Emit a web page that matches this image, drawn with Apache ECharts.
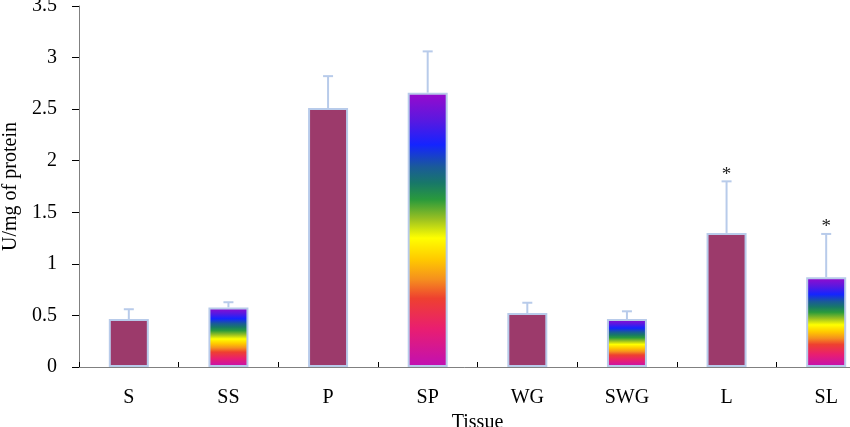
<!DOCTYPE html>
<html>
<head>
<meta charset="utf-8">
<script src="https://cdn.jsdelivr.net/npm/echarts@6/dist/echarts.min.js"></script>
<style>
html,body{margin:0;padding:0;background:#fff;}
#chart{width:850px;height:427px;}
</style>
</head>
<body>
<div id="chart"></div>
<script>
// ---- data ----
var categories = ['S', 'SS', 'P', 'SP', 'WG', 'SWG', 'L', 'SL'];
var means = [0.465, 0.578, 2.51, 2.66, 0.523, 0.465, 1.30, 0.87];
var errors = [0.095, 0.05, 0.31, 0.40, 0.10, 0.075, 0.50, 0.42];
var significance = ['', '', '', '', '', '', '*', '*'];
var groups = ['plain', 'treated', 'plain', 'treated', 'plain', 'treated', 'plain', 'treated'];
var yTicks = ['0', '0.5', '1', '1.5', '2', '2.5', '3', '3.5'];

// ---- styles ----
var FONT = 'Liberation Serif';
var plainColor = '#9c3a6b';
var rainbow = new echarts.graphic.LinearGradient(0, 0, 0, 1, [
  {offset: 0.00, color: '#9a0acb'},
  {offset: 0.10, color: '#5a18e0'},
  {offset: 0.19, color: '#1424ff'},
  {offset: 0.27, color: '#1a5a9a'},
  {offset: 0.33, color: '#187868'},
  {offset: 0.39, color: '#2a9a3c'},
  {offset: 0.46, color: '#99c022'},
  {offset: 0.53, color: '#ffff00'},
  {offset: 0.61, color: '#ffc800'},
  {offset: 0.68, color: '#f5901e'},
  {offset: 0.75, color: '#ee4030'},
  {offset: 0.86, color: '#e91e70'},
  {offset: 1.00, color: '#c010b4'}
]);
var borderBlue = '#b8cbea';

var barData = means.map(function (v, i) {
  return {
    value: v,
    itemStyle: { color: groups[i] === 'treated' ? rainbow : plainColor }
  };
});
var errData = means.map(function (v, i) { return [i, v, errors[i]]; });

var chart = echarts.init(document.getElementById('chart'), null, {renderer: 'canvas'});
chart.setOption({
  animation: false,
  backgroundColor: '#fff',
  grid: { left: 79, top: 6, height: 361, width: 797, containLabel: false, outerBoundsMode: 'none' },
  xAxis: {
    type: 'category',
    data: categories,
    name: 'Tissue',
    nameLocation: 'middle',
    nameGap: 43,
    nameTextStyle: { fontFamily: FONT, fontSize: 20, color: '#000' },
    axisLine: { lineStyle: { color: '#808080', width: 1 } },
    axisTick: { show: true, inside: true, length: 5, lineStyle: { color: '#000' } },
    axisLabel: { margin: 21, fontFamily: FONT, fontSize: 20, color: '#000' }
  },
  yAxis: {
    type: 'value',
    min: 0, max: 3.5, interval: 0.5,
    name: 'U/mg of protein',
    nameLocation: 'middle',
    nameGap: 58,
    nameRotate: 90,
    nameTextStyle: { fontFamily: FONT, fontSize: 20, color: '#000' },
    axisLine: { show: true, lineStyle: { color: '#808080', width: 1 } },
    axisTick: { show: true, length: 7, lineStyle: { color: '#000' } },
    splitLine: { show: false },
    axisLabel: {
      margin: 22, fontFamily: FONT, fontSize: 20, color: '#000',
      formatter: function (v) { return yTicks[Math.round(v / 0.5)]; }
    }
  },
  series: [
    {
      type: 'bar',
      data: barData,
      barWidth: 40,
      itemStyle: { borderColor: borderBlue, borderWidth: 2 },
      z: 2
    },
    {
      type: 'custom',
      data: errData,
      z: 3,
      clip: false,
      renderItem: function (params, api) {
        var x = api.value(0), m = api.value(1), e = api.value(2);
        var base = api.coord([x, m]);
        var top = api.coord([x, m + e]);
        var cx = base[0];
        var children = [
          { type: 'line', shape: { x1: cx, y1: base[1], x2: cx, y2: top[1] },
            style: { stroke: borderBlue, lineWidth: 2 } },
          { type: 'line', shape: { x1: cx - 5, y1: top[1], x2: cx + 5, y2: top[1] },
            style: { stroke: borderBlue, lineWidth: 2 } }
        ];
        var s = significance[params.dataIndex];
        if (s) {
          children.push({
            type: 'text',
            style: {
              text: s, x: cx, y: top[1] + 3,
              align: 'center', verticalAlign: 'bottom',
              font: '19px "' + FONT + '"', fill: '#222'
            }
          });
        }
        return { type: 'group', children: children };
      }
    }
  ]
});
</script>
</body>
</html>
